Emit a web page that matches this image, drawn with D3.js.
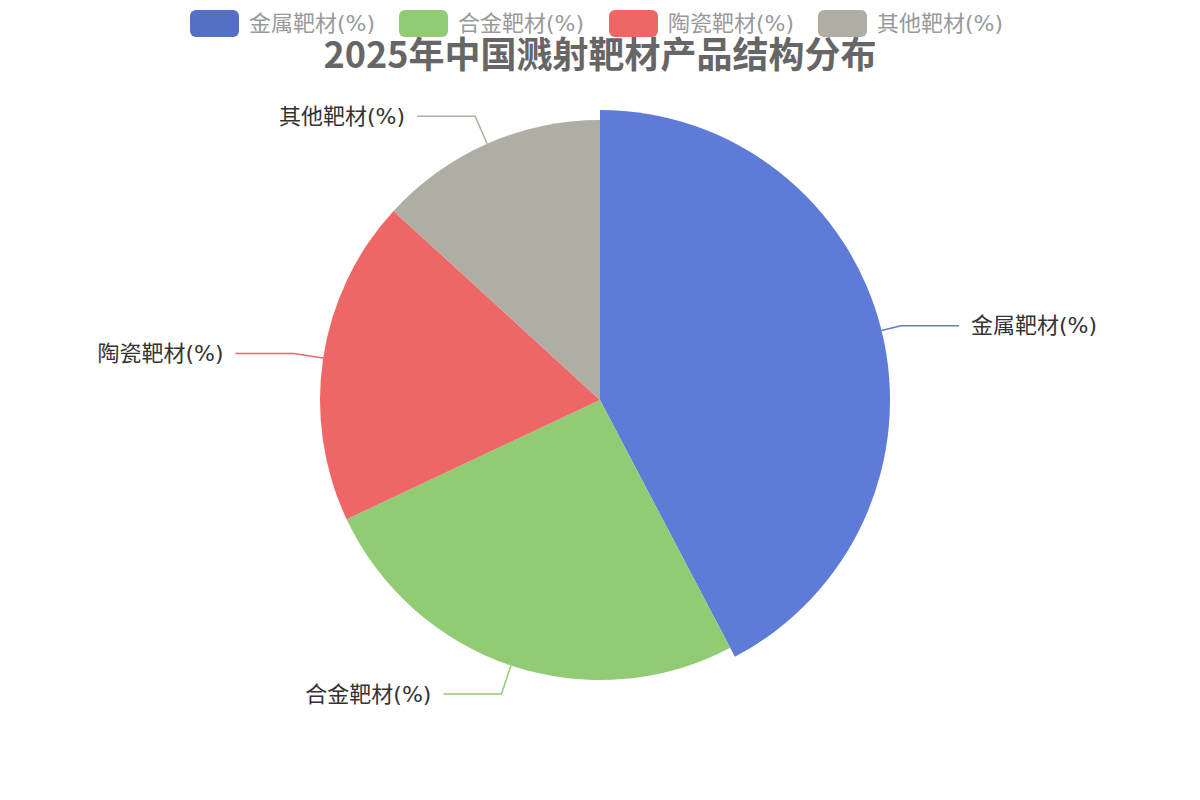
<!DOCTYPE html>
<html>
<head>
<meta charset="utf-8">
<script src="https://cdn.jsdelivr.net/npm/d3@7/dist/d3.min.js"></script>
<style>
  body { margin: 0; background: #fff; }
  svg { display: block; font-family: "Noto Sans CJK SC", "Noto Sans", sans-serif; }
  .lbl { font-family: "DejaVu Sans", "Noto Sans CJK SC", sans-serif; }
</style>
</head>
<body>
<script>
// data
var categories = ["金属靶材(%)", "合金靶材(%)", "陶瓷靶材(%)", "其他靶材(%)"];
var shares = [42.3, 25.7, 18.8, 13.2];
var colors = ["#5470c6", "#91cc75", "#ee6666", "#b0ada5"];
var highlightColor = "#5d7bd7"; // first slice is shown in its hover state
var title = "2025年中国溅射靶材产品结构分布";

var width = 1200,
    height = 800;

var svg = d3.select("body").append("svg")
    .attr("width", width)
    .attr("height", height);

var cx = 600, cy = 400, radius = 280;

var data = categories.map(function(c, i) { return { name: c, value: shares[i], color: colors[i] }; });

var pie = d3.pie()
    .sort(null)
    .value(function(d) { return d.value; });

var arcs = pie(data);

var arc = d3.arc().innerRadius(0).outerRadius(radius);
var arcBig = d3.arc().innerRadius(0).outerRadius(radius + 10);

var g = svg.append("g").attr("transform", "translate(" + cx + "," + cy + ")");

g.selectAll("path")
  .data(arcs)
  .enter().append("path")
    .attr("d", function(d, i) { return i === 0 ? arcBig(d) : arc(d); })
    .attr("fill", function(d, i) { return i === 0 ? highlightColor : d.data.color; })
    .attr("stroke", "none");

// label lines: edge -> elbow -> horizontal
var elbowR = radius + 30, hLen = 58, gap = 12;

arcs.forEach(function(d, i) {
  var a = (d.startAngle + d.endAngle) / 2;
  var r0 = i === 0 ? radius + 10 : radius;
  var x0 = Math.sin(a) * r0, y0 = -Math.cos(a) * r0;
  var x1 = Math.sin(a) * elbowR, y1 = -Math.cos(a) * elbowR;
  var right = x1 > 0;
  var x2 = x1 + (right ? hLen : -hLen);
  g.append("polyline")
    .attr("points", [[x0, y0], [x1, y1], [x2, y1]].map(function(p) { return p.join(","); }).join(" "))
    .attr("fill", "none")
    .attr("stroke", i === 0 ? highlightColor : d.data.color)
    .attr("stroke-width", 1.5);
  g.append("text")
    .attr("class", "lbl")
    .attr("x", x2 + (right ? gap : -gap))
    .attr("y", y1)
    .attr("dy", "0.35em")
    .attr("text-anchor", right ? "start" : "end")
    .attr("font-size", 22)
    .attr("fill", "#333")
    .text(d.data.name);
});

// title
svg.append("text")
    .attr("x", 600)
    .attr("y", 55)
    .attr("dy", "0.35em")
    .attr("text-anchor", "middle")
    .attr("font-size", 36)
    .attr("font-weight", "bold")
    .attr("fill", "#666")
    .text(title);

// legend
var legendX = [190, 399, 609, 818];
var legend = svg.append("g").selectAll("g")
  .data(data)
  .enter().append("g")
    .attr("transform", function(d, i) { return "translate(" + legendX[i] + ",10)"; });

legend.append("rect")
    .attr("width", 49)
    .attr("height", 27)
    .attr("rx", 6)
    .attr("fill", function(d) { return d.color; });

legend.append("text")
    .attr("class", "lbl")
    .attr("x", 59)
    .attr("y", 13.5)
    .attr("dy", "0.35em")
    .attr("font-size", 22)
    .attr("fill", "#999")
    .text(function(d) { return d.name; });
</script>
</body>
</html>
